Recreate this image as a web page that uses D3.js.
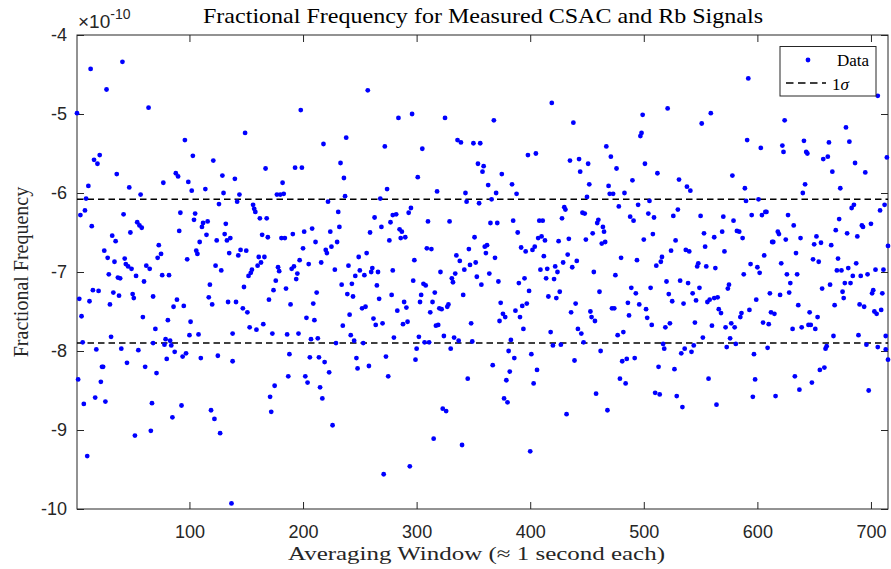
<!DOCTYPE html>
<html>
<head>
<meta charset="utf-8">
<script src="https://cdn.jsdelivr.net/npm/d3@7/dist/d3.min.js"></script>
<style>
  body { margin: 0; background: #fff; }
  .tick text { font-family: "Liberation Sans", Arial, sans-serif; font-size: 18px; fill: #262626; }
  .tick line { stroke: #262626; }
</style>
</head>
<body>
<script>
// values are in units of 1e-10 (fractional frequency), x is the averaging window index
var xTicks = [100, 200, 300, 400, 500, 600, 700];
var yTicks = [-10, -9, -8, -7, -6, -5, -4];
var sigmaLevels = [-6.08, -7.90];

var samples = [
[1,-4.99],[13,-4.43],[41,-4.34],[27,-4.69],[64,-4.92],[96,-5.33],[103,-5.53],[121,-5.59],[16,-5.58],[19,-5.63],[21,-5.52],[36,-5.76],[88,-5.75],[90,-5.79],[129,-5.78],[11,-5.91],[47,-5.93],[77,-5.87],[99,-5.86],[102,-5.97],[114,-5.95],[57,-6.02],[130,-6.00],[9,-6.07],[126,-6.14],[8,-6.22],[4,-6.28],[42,-6.27],[14,-6.42],[54,-6.37],[56,-6.41],[58,-6.44],[92,-6.25],[105,-6.26],[104,-6.34],[91,-6.48],[48,-6.50],[112,-6.38],[116,-6.36],[111,-6.43],[115,-6.53],[109,-6.62],[124,-6.60],[132,-6.39],[131,-6.52],[133,-6.60],[136,-6.57],[32,-6.54],[35,-6.61],[25,-6.73],[28,-6.82],[34,-6.87],[43,-6.83],[44,-6.90],[46,-6.93],[49,-6.96],[73,-6.66],[75,-6.77],[72,-6.82],[106,-6.73],[107,-6.77],[98,-6.84],[135,-6.76],[62,-6.92],[65,-6.96],[29,-7.03],[37,-7.07],[39,-7.08],[53,-7.05],[76,-7.04],[82,-7.04],[123,-6.92],[128,-6.98],[60,-7.12],[15,-7.23],[20,-7.24],[3,-7.34],[12,-7.37],[33,-7.26],[38,-7.30],[50,-7.28],[51,-7.33],[68,-7.31],[30,-7.41],[89,-7.35],[86,-7.44],[95,-7.43],[118,-7.16],[117,-7.32],[120,-7.41],[134,-7.38],[5,-7.56],[59,-7.57],[81,-7.61],[101,-7.63],[70,-7.72],[31,-7.82],[100,-7.80],[108,-7.79],[6,-7.89],[79,-7.85],[68,-7.90],[83,-7.87],[78,-7.92],[84,-7.93],[18,-7.98],[40,-7.97],[55,-7.99],[87,-8.01],[94,-8.07],[97,-8.03],[80,-8.10],[110,-8.09],[125,-8.06],[45,-8.15],[24,-8.20],[23,-8.20],[61,-8.20],[71,-8.28],[2,-8.36],[22,-8.39],[17,-8.59],[26,-8.64],[7,-8.67],[67,-8.66],[93,-8.69],[119,-8.75],[122,-8.86],[85,-8.84],[52,-9.07],[66,-9.01],[127,-9.04],[10,-9.33],[137,-9.93],
[138,-7.78],[138,-8.13],[140,-5.82],[144,-6.02],[142,-6.11],[141,-7.38],[149,-5.24],[143,-6.79],[145,-6.72],[150,-6.73],[148,-7.19],[147,-7.46],[151,-7.51],[153,-7.70],[159,-7.73],[165,-7.66],[152,-7.05],[154,-7.01],[155,-6.97],[156,-6.15],[157,-6.20],[158,-6.24],[162,-6.32],[168,-6.32],[164,-6.53],[169,-6.56],[160,-6.92],[163,-6.88],[161,-6.81],[166,-6.81],[167,-5.69],[170,-7.35],[173,-7.78],[175,-8.44],[171,-8.58],[172,-8.77],[174,-7.23],[176,-7.11],[178,-6.94],[179,-6.99],[177,-6.02],[180,-6.02],[183,-6.01],[182,-5.87],[181,-6.57],[184,-6.57],[185,-7.21],[186,-7.79],[188,-8.04],[187,-8.32],[189,-7.41],[191,-6.52],[190,-6.96],[192,-6.93],[194,-7.09],[195,-7.02],[193,-5.68],[199,-5.68],[198,-4.95],[196,-7.78],[197,-6.85],[200,-6.70],[201,-6.49],[202,-8.32],[203,-7.58],[204,-8.40],[205,-6.90],[206,-8.08],[207,-7.85],[208,-6.45],[209,-7.40],[210,-7.61],[211,-6.62],[212,-7.26],[213,-7.84],[214,-8.08],[215,-8.46],[216,-6.88],[217,-8.60],[218,-5.38],[219,-8.14],[220,-6.72],[221,-6.76],[222,-6.11],[223,-8.27],[224,-6.49],[225,-6.68],[226,-8.94],[228,-6.97],[229,-7.90],[230,-6.62],[231,-6.24],[232,-6.43],[233,-5.62],[234,-7.16],[235,-7.68],[236,-5.81],[237,-6.04],[238,-5.30],[239,-7.28],[240,-6.92],[241,-7.54],[242,-7.80],[243,-7.15],[244,-7.31],[245,-7.87],[246,-7.05],[247,-8.09],[248,-8.22],[249,-6.81],[250,-6.98],[252,-7.46],[253,-7.90],[254,-7.04],[255,-7.44],[256,-6.76],[257,-4.70],[258,-8.19],[259,-6.50],[260,-7.00],[261,-6.95],[262,-7.59],[263,-6.31],[264,-7.67],[265,-7.17],[266,-7.00],[267,-7.34],[268,-6.07],[269,-6.43],[270,-7.65],[271,-9.56],[272,-5.41],[273,-8.07],[274,-5.95],[275,-8.32],[276,-6.60],[277,-6.37],[278,-7.29],[279,-6.98],[279,-6.28],[280,-7.83],
[282,-6.27],[283,-7.49],[284,-5.05],[285,-6.46],[287,-6.49],[286,-6.57],[290,-6.56],[289,-7.38],[291,-7.45],[288,-7.66],[292,-7.63],[293,-6.25],[294,-9.46],[295,-6.19],[296,-5.00],[297,-7.11],[298,-6.85],[300,-7.97],[299,-8.11],[301,-5.80],[302,-7.82],[303,-7.38],[304,-7.29],[305,-5.44],[306,-7.15],[307,-7.89],[308,-7.17],[309,-6.70],[310,-6.36],[311,-7.89],[312,-7.51],[313,-6.71],[314,-7.38],[315,-9.11],[316,-7.26],[317,-7.68],[318,-5.98],[319,-7.67],[320,-7.46],[322,-7.47],[321,-7.00],[323,-8.73],[324,-7.81],[325,-5.05],[326,-8.76],[327,-7.44],[328,-7.41],[329,-6.36],[330,-7.97],[331,-7.08],[332,-7.13],[333,-7.83],[334,-7.02],[335,-6.79],[336,-5.33],[337,-7.87],[338,-6.86],[339,-5.36],[340,-9.19],[341,-7.29],[342,-6.97],[343,-6.00],[344,-6.11],[345,-8.35],[346,-6.71],[347,-6.91],[348,-7.65],[349,-7.88],[350,-5.37],[351,-6.56],[352,-6.88],[353,-7.06],[354,-5.63],[355,-6.13],[356,-5.37],[357,-7.16],[358,-5.73],[359,-5.66],[360,-6.68],[361,-6.76],[362,-6.66],[363,-5.90],[364,-7.02],[365,-6.38],[366,-6.08],[367,-8.18],[368,-5.08],[369,-6.82],[370,-6.00],[371,-6.38],[372,-7.12],[373,-7.62],[374,-7.39],[375,-5.76],[376,-7.53],[377,-8.60],[378,-7.57],[379,-8.37],[380,-8.65],[381,-8.00],[382,-8.26],[383,-7.86],[384,-5.89],[385,-6.35],[386,-8.09],[387,-7.49],[388,-6.01],[389,-6.50],[390,-7.14],[391,-7.57],[392,-6.69],[393,-7.43],[394,-7.72],[395,-7.08],[396,-6.74],[397,-7.40],[398,-5.52],[399,-7.24],[400,-9.27],[401,-8.04],[402,-6.72],[403,-8.41],[404,-6.68],[405,-5.50],[406,-8.24],[407,-6.57],[408,-6.35],[409,-6.97],[410,-6.55],[411,-6.35],[412,-6.80],[413,-6.60],[414,-7.08],[415,-6.96],[416,-7.31],[418,-7.76],[419,-4.86],[420,-7.93],
[422,-6.93],[421,-7.09],[423,-7.33],[424,-7.00],[425,-6.61],[426,-7.25],[427,-7.92],[428,-6.32],[429,-6.88],[430,-6.18],[431,-6.21],[432,-8.80],[433,-6.78],[434,-6.58],[435,-5.59],[436,-7.51],[437,-6.94],[438,-5.11],[439,-8.12],[440,-7.40],[441,-6.86],[442,-7.72],[443,-5.57],[444,-5.73],[445,-7.78],[446,-6.25],[447,-7.89],[448,-6.26],[449,-6.59],[450,-6.05],[451,-5.63],[452,-5.89],[453,-7.50],[454,-7.57],[455,-6.51],[456,-7.00],[457,-7.62],[458,-8.54],[459,-6.38],[460,-6.34],[461,-7.25],[462,-8.00],[463,-6.64],[464,-6.43],[465,-6.49],[466,-6.62],[467,-5.41],[468,-8.75],[469,-5.91],[470,-6.01],[471,-5.54],[472,-7.46],[473,-6.01],[474,-7.46],[475,-7.04],[476,-5.69],[477,-7.80],[478,-6.17],[479,-8.35],[480,-6.82],[481,-8.13],[482,-7.76],[483,-6.00],[484,-8.41],[485,-8.10],[486,-7.39],[487,-7.55],[488,-6.30],[489,-7.20],[490,-5.84],[491,-6.35],[492,-8.09],[493,-7.27],[494,-6.85],[495,-6.15],[496,-7.41],[497,-5.28],[498,-5.24],[499,-5.01],[500,-6.59],[501,-5.63],[502,-7.47],[503,-7.58],[504,-6.26],[505,-6.10],[506,-7.20],[507,-7.67],[508,-6.52],[509,-6.31],[510,-8.53],[511,-6.92],[512,-5.75],[513,-8.20],[514,-8.55],[515,-6.87],[516,-6.81],[517,-7.91],[518,-7.97],[519,-7.70],[520,-7.12],[521,-4.93],[522,-7.28],[523,-7.65],[524,-6.73],[525,-7.37],[526,-6.29],[527,-8.23],[528,-6.60],[529,-8.57],[530,-6.21],[531,-5.83],[532,-7.11],[533,-8.03],[534,-8.71],[535,-7.40],[536,-7.97],[537,-6.72],[538,-5.92],[539,-7.14],[540,-6.74],[541,-5.97],[542,-8.01],[543,-7.27],[544,-7.93],[545,-7.64],[546,-7.36],[547,-6.93],[548,-6.89],[549,-7.20],[550,-6.29],[551,-5.12],[552,-7.83],[553,-6.51],[554,-6.68],[555,-6.93],[556,-7.38],[557,-8.35],[558,-7.35],[559,-4.99],[560,-7.68],
[562,-6.56],[562,-7.33],[563,-6.95],[564,-8.68],[565,-7.32],[566,-7.47],[568,-7.52],[569,-6.49],[570,-6.30],[571,-6.74],[572,-7.70],[573,-7.95],[574,-7.21],[575,-7.16],[576,-7.84],[577,-7.65],[578,-5.78],[579,-6.35],[580,-7.70],[581,-7.91],[582,-6.48],[584,-6.49],[585,-7.57],[586,-7.52],[587,-6.57],[588,-7.03],[589,-5.94],[590,-6.10],[591,-5.33],[592,-4.55],[593,-7.48],[594,-6.90],[595,-6.28],[596,-8.58],[597,-8.04],[598,-8.36],[599,-7.35],[600,-6.94],[601,-6.08],[602,-7.01],[603,-5.43],[604,-6.28],[605,-7.64],[606,-6.79],[607,-6.24],[608,-6.24],[609,-7.96],[610,-7.66],[611,-7.27],[612,-7.51],[613,-6.62],[614,-6.62],[615,-7.53],[616,-8.57],[618,-6.49],[619,-6.52],[620,-7.29],[621,-6.89],[622,-5.40],[623,-5.48],[624,-5.08],[625,-6.59],[626,-7.03],[627,-6.28],[628,-7.26],[629,-7.14],[631,-7.72],[632,-6.41],[633,-8.32],[634,-6.76],[635,-7.03],[636,-7.42],[637,-8.49],[638,-6.57],[639,-7.70],[640,-6.00],[641,-5.34],[642,-5.89],[643,-5.48],[644,-5.50],[645,-7.67],[646,-7.51],[647,-7.67],[648,-8.40],[649,-6.84],[650,-6.65],[651,-7.72],[652,-6.55],[653,-7.57],[654,-6.87],[655,-8.24],[656,-6.63],[657,-7.21],[658,-5.57],[659,-8.21],[660,-7.97],[661,-7.94],[662,-5.54],[663,-5.36],[664,-7.16],[665,-6.66],[666,-5.73],[667,-7.81],[668,-7.42],[669,-6.47],[670,-6.98],[671,-6.83],[672,-6.33],[673,-5.94],[674,-6.98],[675,-7.25],[676,-7.33],[677,-7.14],[678,-5.17],[679,-6.51],[680,-6.95],[681,-5.35],[682,-7.14],[683,-6.19],[684,-7.05],[685,-6.15],[686,-5.62],[687,-6.89],[688,-6.55],[689,-7.80],[690,-7.41],[691,-7.05],[692,-6.41],[693,-6.43],[694,-7.44],[695,-5.74],[696,-7.92],[697,-7.03],[698,-8.50],[700,-6.39],[701,-7.27],[702,-7.23],[703,-7.50],[704,-6.97],[705,-7.53],[706,-7.95],[706,-4.77],[708,-6.22],[709,-7.48],[710,-7.27],[711,-6.97],[712,-6.15],[713,-7.81],[713,-7.98],[714,-5.55],[715,-6.67],[715,-8.11]
];

var width = 891, height = 569;
var margin = {top: 35, right: 3, bottom: 60, left: 77};
var plotW = width - margin.left - margin.right,
    plotH = height - margin.top - margin.bottom;

var x = d3.scaleLinear().domain([1, 715]).range([0, plotW]);
var y = d3.scaleLinear().domain([-10, -4]).range([plotH, 0]);

var svg = d3.select('body').append('svg')
  .attr('width', width)
  .attr('height', height);

var g = svg.append('g')
  .attr('transform', 'translate(' + margin.left + ',' + margin.top + ')');

g.append('rect')
  .attr('width', plotW)
  .attr('height', plotH)
  .attr('fill', '#fff');

// axes with inward ticks on all four sides
g.append('g')
  .attr('class', 'x axis')
  .attr('transform', 'translate(0,' + plotH + ')')
  .call(d3.axisBottom(x).tickValues(xTicks).tickSize(-7).tickPadding(16));

g.append('g')
  .call(d3.axisTop(x).tickValues(xTicks).tickSize(-7).tickFormat(''));

g.append('g')
  .attr('class', 'y axis')
  .call(d3.axisLeft(y).tickValues(yTicks).tickSize(-7).tickPadding(10).tickFormat(d3.format('d')));

g.append('g')
  .attr('transform', 'translate(' + plotW + ',0)')
  .call(d3.axisRight(y).tickValues(yTicks).tickSize(-7).tickFormat(''));

g.selectAll('.domain').remove();
g.selectAll('.y.axis text').text(function(d) { return String(d).replace('\u2212', '-'); });

g.append('rect')
  .attr('width', plotW)
  .attr('height', plotH)
  .attr('fill', 'none')
  .attr('stroke', '#262626')
  .attr('stroke-width', 1);

// 1 sigma lines
g.selectAll('.sigma')
  .data(sigmaLevels)
  .enter().append('line')
  .attr('class', 'sigma')
  .attr('x1', 0)
  .attr('x2', plotW)
  .attr('y1', function(d) { return y(d); })
  .attr('y2', function(d) { return y(d); })
  .attr('stroke', '#000')
  .attr('stroke-width', 1.5)
  .attr('stroke-dasharray', '6.5,4');

g.selectAll('.dot')
  .data(samples)
  .enter().append('circle')
  .attr('class', 'dot')
  .attr('cx', function(d) { return x(d[0]); })
  .attr('cy', function(d) { return y(d[1]); })
  .attr('r', 2.4)
  .attr('fill', '#0000ff');

// exponent label
var expo = svg.append('text')
  .attr('x', 78)
  .attr('y', 28)
  .attr('fill', '#262626')
  .style('font-family', '"Liberation Sans", Arial, sans-serif')
  .style('font-size', '19px');
expo.append('tspan').text('\u00d710');
expo.append('tspan').attr('dy', -9).style('font-size', '14px').text('-10');

// title and labels
svg.append('text')
  .attr('x', 203)
  .attr('y', 23)
  .attr('textLength', 560)
  .attr('lengthAdjust', 'spacingAndGlyphs')
  .style('font-family', '"Liberation Serif", "DejaVu Serif", serif')
  .style('font-size', '21px')
  .attr('fill', '#000')
  .text('Fractional Frequency for Measured CSAC and Rb Signals');

svg.append('text')
  .attr('x', 288)
  .attr('y', 560)
  .attr('textLength', 377)
  .attr('lengthAdjust', 'spacingAndGlyphs')
  .style('font-family', '"Liberation Serif", "DejaVu Serif", serif')
  .style('font-size', '19px')
  .attr('fill', '#262626')
  .text('Averaging Window (\u2248 1 second each)');

svg.append('text')
  .attr('transform', 'translate(28,' + (margin.top + plotH / 2) + ') rotate(-90)')
  .attr('text-anchor', 'middle')
  .style('font-family', '"Liberation Serif", "DejaVu Serif", serif')
  .style('font-size', '20px')
  .attr('fill', '#262626')
  .text('Fractional Frequency');

// legend
var legend = svg.append('g')
  .attr('class', 'legend')
  .attr('transform', 'translate(780,46.5)');

legend.append('rect')
  .attr('width', 96)
  .attr('height', 49.5)
  .attr('fill', '#fff')
  .attr('stroke', '#262626')
  .attr('stroke-width', 1);

legend.append('circle')
  .attr('cx', 28)
  .attr('cy', 13.5)
  .attr('r', 2.4)
  .attr('fill', '#0000ff');

legend.append('text')
  .attr('x', 57)
  .attr('y', 19)
  .style('font-family', '"Liberation Serif", "DejaVu Serif", serif')
  .style('font-size', '17px')
  .text('Data');

legend.append('line')
  .attr('x1', 6)
  .attr('x2', 46)
  .attr('y1', 36.5)
  .attr('y2', 36.5)
  .attr('stroke', '#000')
  .attr('stroke-width', 1.5)
  .attr('stroke-dasharray', '7.5,4.5');

var sig = legend.append('text')
  .attr('x', 52)
  .attr('y', 43)
  .style('font-family', '"Liberation Serif", "DejaVu Serif", serif')
  .style('font-size', '17px');
sig.append('tspan').text('1');
sig.append('tspan').style('font-style', 'italic').text('\u03c3');
</script>
</body>
</html>
